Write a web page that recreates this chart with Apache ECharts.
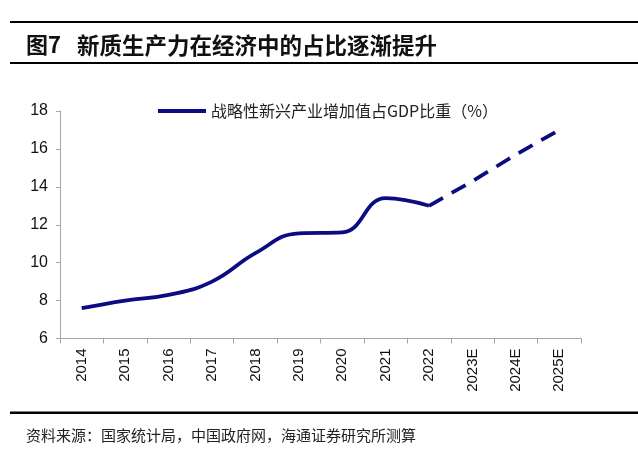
<!DOCTYPE html>
<html><head><meta charset="utf-8">
<script src="https://cdn.jsdelivr.net/npm/echarts@6/dist/echarts.min.js"></script>
<style>html,body{margin:0;padding:0;background:#fff}#c{width:638px;height:460px}</style>
</head><body><div id="c"></div>
<script>
var categories = ['2014','2015','2016','2017','2018','2019','2020','2021','2022','2023E','2024E','2025E'];
var actualValues = [7.6, 8.0, 8.3, 9.0, 10.5, 11.55, 11.6, 13.4, 13.0, null, null, null];
var forecastValues = [null, null, null, null, null, null, null, null, 13.0, 14.3, 15.7, 17.0];
var seriesName = '战略性新兴产业增加值占GDP比重（%）';
var yTicks = {min: 6, max: 18, interval: 2};

var chart = echarts.init(document.getElementById('c'));
var latin = '"Liberation Sans", Arial, "Noto Sans CJK SC", sans-serif';
var cjk = '"Noto Sans CJK SC", sans-serif';
var navy = '#0c0c82';
chart.setOption({
  animation: false,
  backgroundColor: '#fff',
  grid: {left: 60, right: 57, top: 111, bottom: 121.5, containLabel: false},
  legend: {
    data: [seriesName],
    left: 153, top: 98,
    itemWidth: 48, itemHeight: 4, itemGap: 4,
    icon: 'rect',
    textStyle: {fontFamily: cjk, fontSize: 16, color: '#222'}
  },
  xAxis: {
    type: 'category', data: categories, boundaryGap: true,
    axisLine: {lineStyle: {color: '#a6a6a6', width: 1}},
    axisTick: {show: true, length: 5, lineStyle: {color: '#a6a6a6'}},
    axisLabel: {rotate: 90, fontFamily: latin, fontSize: 15, color: '#111', margin: 10, interval: 0}
  },
  yAxis: {
    type: 'value', min: yTicks.min, max: yTicks.max, interval: yTicks.interval,
    axisLine: {show: true, lineStyle: {color: '#a6a6a6', width: 1}},
    axisTick: {show: true, length: 4, lineStyle: {color: '#a6a6a6'}},
    splitLine: {show: false},
    axisLabel: {fontFamily: latin, fontSize: 16, color: '#111', margin: 12}
  },
  series: [
    {name: seriesName, type: 'line', data: actualValues, smooth: 0.45, symbol: 'none',
     lineStyle: {color: navy, width: 3.8}, itemStyle: {color: navy}},
    {name: 'forecast', type: 'line', data: forecastValues, smooth: false, symbol: 'none',
     lineStyle: {color: navy, width: 3.8, type: [16, 10]}, itemStyle: {color: navy}}
  ],
  graphic: [
    {type: 'rect', shape: {x: 10, y: 21, width: 628, height: 2}, style: {fill: '#000'}},
    {type: 'rect', shape: {x: 10, y: 62, width: 628, height: 2}, style: {fill: '#000'}},
    {type: 'text', left: 26, top: 34, style: {text: '图7', font: 'bold 22px ' + cjk, fill: '#111'}},
    {type: 'text', left: 77, top: 34, style: {text: '新质生产力在经济中的占比逐渐提升', font: 'bold 22.5px ' + cjk, fill: '#111'}},
    {type: 'rect', shape: {x: 10, y: 411.5, width: 628, height: 2.5}, style: {fill: '#000'}},
    {type: 'text', left: 26, top: 428, style: {text: '资料来源：国家统计局，中国政府网，海通证券研究所测算', font: '15px ' + cjk, fill: '#222'}}
  ]
});
</script></body></html>
